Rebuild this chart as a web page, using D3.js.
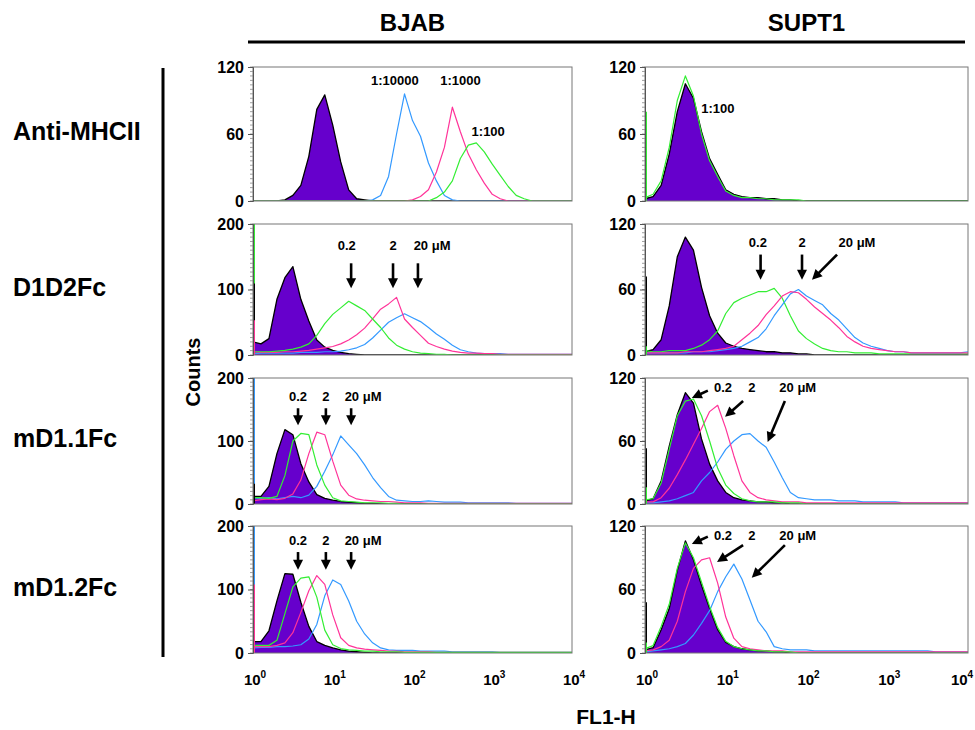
<!DOCTYPE html>
<html><head><meta charset="utf-8">
<script src="https://cdn.jsdelivr.net/npm/d3@7"></script>
<style>
body{margin:0;background:#fff;}
svg{display:block;font-family:Arial,"Liberation Sans",Helvetica,sans-serif;}
</style></head><body>
<svg id="chart" width="975" height="730"></svg>
<script>
// ---------------- DATA ----------------
const columnTitles = ["BJAB", "SUPT1"];
const rowLabels = ["Anti-MHCII", "D1D2Fc", "mD1.1Fc", "mD1.2Fc"];
const xTickValues = [1, 10, 100, 1000, 10000];
const xTickExponents = ["0", "1", "2", "3", "4"];
const yMaxByPanel = [[120, 120], [200, 120], [200, 120], [200, 120]];

// bin centres, as log10(FL1-H)
const binExponents = [0,0.1,0.2,0.3,0.4,0.5,0.6,0.7,0.8,0.9,
  1,1.1,1.2,1.3,1.4,1.5,1.6,1.7,1.8,1.9,
  2,2.1,2.2,2.3,2.4,2.5,2.6,2.7,2.8,2.9,
  3,3.1,3.2,3.3,3.4,3.5,3.6,3.7,3.8,3.9,4];

// Row 1 — Anti-MHCII
const bjabMhcCtrl = [0,0,0,0,1,5,14,40,82,95, 68,35,10,2,1,0,0,0,0,0, 0,0,0,0,0,0,0,0,0,0, 0,0,0,0,0,0,0,0,0,0,0];
const bjabMhc10000 = [0,0,0,0,0,0,0,0,0,0, 0,0,0,0,0,1,5,22,60,96, 72,58,34,18,5,1,0,0,0,0, 0,0,0,0,0,0,0,0,0,0,0];
const bjabMhc1000 = [0,0,0,0,0,0,0,0,0,0, 0,0,0,0,0,0,0,0,0,0, 1,4,10,26,48,84,62,42,28,16, 6,2,0,0,0,0,0,0,0,0,0];
const bjabMhc100 = [0,0,0,0,0,0,0,0,0,0, 0,0,0,0,0,0,0,0,0,0, 0,0,0,3,8,18,38,50,52,44, 33,23,13,5,2,0,0,0,0,0,0];
const supt1MhcCtrl = [2,4,14,42,80,105,92,62,38,24, 10,6,4,3,3,2,2,1,1,0, 0,0,0,0,0,0,0,0,0,0, 0,0,0,0,0,0,0,0,0,0,0];
const supt1Mhc100 = [3,6,18,48,90,112,94,60,36,22, 9,5,3,3,2,2,1,1,1,1, 0,0,0,0,0,0,0,0,0,0, 0,0,0,0,0,0,0,0,0,0,0];

// Row 2 — D1D2Fc (0.2, 2, 20 µM)
const bjabD1D2Ctrl = [20,17,25,85,118,135,85,52,23,12, 7,4,2,1,0,0,0,0,0,0, 0,0,0,0,0,0,0,0,0,0, 0,0,0,0,0,0,0,0,0,0,0];
const bjabD1D2Low = [5,5,5,6,7,9,12,17,30,48, 62,72,82,75,68,55,42,26,15,9, 5,3,2,1,1,0,0,0,0,0, 0,0,0,0,0,0,0,0,0,0,0];
const bjabD1D2Mid = [5,4,4,4,5,5,6,7,9,11, 13,17,23,31,41,55,70,78,88,55, 42,30,18,13,9,6,4,3,3,2, 2,1,1,1,1,1,1,1,1,1,1];
const bjabD1D2High = [2,3,3,3,3,3,4,4,4,5, 5,6,8,11,16,26,38,50,57,63, 57,51,42,32,24,15,8,5,3,2, 2,2,1,1,1,1,1,1,1,1,1];
const supt1D1D2Ctrl = [3,5,14,45,90,108,96,62,36,20, 11,8,6,5,4,3,3,2,2,1, 1,0,0,0,0,0,0,0,0,0, 0,0,0,0,0,0,0,0,0,0,0];
const supt1D1D2Low = [4,3,3,4,4,4,6,9,14,22, 38,48,52,55,58,58,61,52,36,22, 15,10,6,4,3,3,2,2,2,1, 1,1,1,1,1,1,1,1,1,1,1];
const supt1D1D2Mid = [2,2,2,2,2,3,3,3,4,5, 6,8,14,20,27,37,45,54,58,57, 51,44,38,32,25,17,12,8,6,5, 4,3,3,2,2,2,2,2,2,2,2];
const supt1D1D2High = [2,2,2,2,2,2,3,3,3,4, 5,6,8,12,16,24,36,46,56,60, 54,50,46,38,32,24,16,11,8,6, 4,3,3,2,2,2,2,2,2,2,3];

// Row 3 — mD1.1Fc
const bjabM11Ctrl = [12,12,28,80,118,110,64,35,15,9, 6,4,3,2,1,1,0,0,0,0, 0,0,0,0,0,0,0,0,0,0, 0,0,0,0,0,0,0,0,0,0,0];
const bjabM11Low = [10,10,9,12,45,100,112,110,62,30, 10,5,4,3,2,2,2,1,1,0, 0,0,0,0,0,0,0,0,0,0, 0,0,0,0,0,0,0,0,0,0,0];
const bjabM11Mid = [5,7,8,7,9,16,38,80,114,110, 68,30,14,8,6,5,4,4,3,2, 2,2,1,1,1,1,1,1,1,1, 1,1,1,1,1,1,1,1,1,1,1];
const bjabM11High = [10,9,10,8,10,12,10,14,28,52, 78,108,94,80,62,42,26,12,6,5, 4,4,5,4,3,3,3,2,2,2, 2,2,2,1,1,1,1,1,1,1,1];
const supt1M11Ctrl = [3,5,22,55,85,106,96,62,38,22, 11,6,4,3,2,2,1,1,0,0, 0,0,0,0,0,0,0,0,0,0, 0,0,0,0,0,0,0,0,0,0,0];
const supt1M11Low = [4,5,20,52,84,98,100,84,60,34, 18,10,5,3,2,2,2,1,1,1, 0,0,0,0,0,0,0,0,0,0, 0,0,0,0,0,0,0,0,0,0,0];
const supt1M11Mid = [2,2,6,15,28,42,57,72,88,94, 72,46,22,11,6,4,3,2,2,2, 1,1,1,1,1,1,1,1,1,1, 1,1,1,1,1,1,1,1,1,1,1];
const supt1M11High = [1,1,2,3,5,8,11,22,30,40, 52,60,66,67,60,54,40,25,11,6, 5,4,4,4,3,3,3,2,2,2, 2,2,1,1,1,1,1,1,1,1,1];

// Row 4 — mD1.2Fc
const bjabM12Ctrl = [18,18,35,82,125,124,80,42,18,12, 8,5,3,2,1,0,0,0,0,0, 0,0,0,0,0,0,0,0,0,0, 0,0,0,0,0,0,0,0,0,0,0];
const bjabM12Low = [12,12,12,20,62,104,118,120,88,36, 13,7,5,4,3,3,2,2,2,1, 1,1,1,1,1,1,1,1,1,1, 1,1,1,1,1,1,1,1,1,1,1];
const bjabM12Mid = [10,10,10,12,16,32,64,98,122,108, 60,24,12,8,6,5,4,3,3,2, 2,2,2,1,1,1,1,1,1,1, 1,1,1,1,1,1,1,1,1,1,1];
const bjabM12High = [8,9,9,10,10,11,13,22,45,90, 115,108,82,50,30,16,8,5,4,4, 4,3,3,3,3,2,2,2,2,2, 2,1,1,1,1,1,1,1,1,1,1];
const supt1M12Ctrl = [3,5,22,42,78,106,88,64,42,22, 10,6,4,3,2,2,1,1,0,0, 0,0,0,0,0,0,0,0,0,0, 0,0,0,0,0,0,0,0,0,0,0];
const supt1M12Low = [4,7,25,46,80,104,90,67,44,24, 11,6,4,3,2,2,1,1,1,0, 0,0,0,0,0,0,0,0,0,0, 0,0,0,0,0,0,0,0,0,0,0];
const supt1M12Mid = [2,3,6,12,30,58,80,88,90,66, 34,14,6,4,3,2,2,2,1,1, 1,1,1,1,1,1,1,1,1,1, 1,1,1,1,1,1,1,1,1,1,1];
const supt1M12High = [1,2,3,4,6,9,17,28,40,58, 72,84,70,50,30,20,6,4,3,3, 3,2,2,2,2,2,2,2,2,2, 2,2,2,2,2,2,1,1,1,1,1];

// first-channel (FL1-H = 1) spikes: [series, count]
const supt1MhcSpikes = [["green", 80]];
const bjabD1D2Spikes = [["green", 200], ["black", 109], ["pink", 53]];
const supt1D1D2Spikes = [["black", 72], ["green", 8]];
const bjabM11Spikes = [["blue", 200], ["black", 32]];
const supt1M11Spikes = [["black", 53], ["green", 16]];
const bjabM12Spikes = [["blue", 200], ["pink", 108]];
const supt1M12Spikes = [["black", 48], ["green", 10]];

// annotations in data units: [text, FL1-H, count]
const bjabMhcNotes = [["1:10000", 60, 108], ["1:1000", 400, 108], ["1:100", 890, 62]];
const supt1MhcNotes = [["1:100", 8, 83]];
const bjabD1D2Notes = [["0.2", 15, 168], ["2", 57, 168], ["20 \u03bcM", 176, 168]];
const supt1D1D2Notes = [["0.2", 25, 103], ["2", 88, 103], ["20 \u03bcM", 422, 103]];
const bjabM11Notes = [["0.2", 3.67, 170], ["2", 8.2, 170], ["20 \u03bcM", 24, 170]];
const supt1M11Notes = [["0.2", 9.25, 111], ["2", 21, 111], ["20 \u03bcM", 78, 111]];
const bjabM12Notes = [["0.2", 3.67, 178], ["2", 8.2, 178], ["20 \u03bcM", 24, 178]];
const supt1M12Notes = [["0.2", 9.25, 111.5], ["2", 21, 111.5], ["20 \u03bcM", 78, 111.5]];

// arrows in data units: [fromFL1, fromCount, toFL1, toCount]
const bjabD1D2Arrows = [[17, 140, 17, 102], [57, 140, 57, 102], [117, 140, 117, 102]];
const supt1D1D2Arrows = [[27, 92, 27, 69], [88, 92, 88, 69], [239, 92, 117, 69]];
const bjabM11Arrows = [[3.67, 152, 3.67, 125], [8.2, 152, 8.2, 125], [17, 152, 17, 125]];
const supt1M11Arrows = [[6.0, 108, 3.8, 101], [16.4, 98, 9.8, 83], [54, 98, 33, 59]];
const bjabM12Arrows = [[3.67, 159, 3.67, 131], [8.2, 159, 8.2, 131], [17, 159, 17, 131]];
const supt1M12Arrows = [[6.0, 110, 3.8, 103], [16.4, 102, 7.8, 86], [54, 102, 21, 71]];

// ---------------- STYLE / LAYOUT ----------------
const COLORS = {blue: "#3399ff", pink: "#ff3399", green: "#33ee33", black: "#000", purple: "#6600cc"};
const colX = [[253, 572], [645, 968]];
const rowY = [[67, 201], [224, 355], [378, 504], [526, 653]];
const FONT = 'Arial, "Liberation Sans", Helvetica, sans-serif';

const panels = [
  {r:0,c:0,ctrl:bjabMhcCtrl,lines:[[bjabMhc10000,"blue"],[bjabMhc1000,"pink"],[bjabMhc100,"green"]],spikes:[],notes:bjabMhcNotes,arrows:[]},
  {r:0,c:1,ctrl:supt1MhcCtrl,lines:[[supt1Mhc100,"green"]],spikes:supt1MhcSpikes,notes:supt1MhcNotes,arrows:[]},
  {r:1,c:0,ctrl:bjabD1D2Ctrl,lines:[[bjabD1D2High,"blue"],[bjabD1D2Mid,"pink"],[bjabD1D2Low,"green"]],spikes:bjabD1D2Spikes,notes:bjabD1D2Notes,arrows:bjabD1D2Arrows},
  {r:1,c:1,ctrl:supt1D1D2Ctrl,lines:[[supt1D1D2Low,"green"],[supt1D1D2High,"blue"],[supt1D1D2Mid,"pink"]],spikes:supt1D1D2Spikes,notes:supt1D1D2Notes,arrows:supt1D1D2Arrows},
  {r:2,c:0,ctrl:bjabM11Ctrl,lines:[[bjabM11High,"blue"],[bjabM11Mid,"pink"],[bjabM11Low,"green"]],spikes:bjabM11Spikes,notes:bjabM11Notes,arrows:bjabM11Arrows},
  {r:2,c:1,ctrl:supt1M11Ctrl,lines:[[supt1M11High,"blue"],[supt1M11Mid,"pink"],[supt1M11Low,"green"]],spikes:supt1M11Spikes,notes:supt1M11Notes,arrows:supt1M11Arrows},
  {r:3,c:0,ctrl:bjabM12Ctrl,lines:[[bjabM12High,"blue"],[bjabM12Mid,"pink"],[bjabM12Low,"green"]],spikes:bjabM12Spikes,notes:bjabM12Notes,arrows:bjabM12Arrows},
  {r:3,c:1,ctrl:supt1M12Ctrl,lines:[[supt1M12High,"blue"],[supt1M12Mid,"pink"],[supt1M12Low,"green"]],spikes:supt1M12Spikes,notes:supt1M12Notes,arrows:supt1M12Arrows}
];

const svg = d3.select("#chart");
svg.append("rect").attr("width", 975).attr("height", 730).attr("fill", "#fff");

// headers
columnTitles.forEach((t, i) => {
  svg.append("text").attr("x", (colX[i][0] + colX[i][1]) / 2).attr("y", 31)
    .attr("text-anchor", "middle").attr("font-size", 24).attr("font-weight", "bold").text(t);
});
svg.append("line").attr("x1", 248).attr("x2", 965).attr("y1", 42).attr("y2", 42)
  .attr("stroke", "#000").attr("stroke-width", 3);
svg.append("line").attr("x1", 163).attr("x2", 163).attr("y1", 68).attr("y2", 657)
  .attr("stroke", "#000").attr("stroke-width", 3);
rowLabels.forEach((t, i) => {
  svg.append("text").attr("x", 13).attr("y", (rowY[i][0] + rowY[i][1]) / 2 + 6)
    .attr("font-size", 25).attr("font-weight", "bold").text(t);
});
svg.append("text").attr("transform", "translate(200,372) rotate(-90)")
  .attr("text-anchor", "middle").attr("font-size", 20).attr("font-weight", "bold").text("Counts");
svg.append("text").attr("x", 606).attr("y", 724).attr("text-anchor", "middle")
  .attr("font-size", 21).attr("font-weight", "bold").text("FL1-H");

const defs = svg.append("defs");

function drawArrow(g, x1, y1, x2, y2) {
  const dx = x2 - x1, dy = y2 - y1, len = Math.hypot(dx, dy);
  const ux = dx / len, uy = dy / len, hl = 10, hw = 5;
  const bx = x2 - ux * hl, by = y2 - uy * hl;
  g.append("line").attr("x1", x1).attr("y1", y1).attr("x2", bx + ux).attr("y2", by + uy)
    .attr("stroke", "#000").attr("stroke-width", 2.6);
  g.append("path").attr("d", `M${x2},${y2}L${bx - uy * hw},${by + ux * hw}L${bx + uy * hw},${by - ux * hw}Z`)
    .attr("fill", "#000");
}

panels.forEach((p, k) => {
  const [x0, x1] = colX[p.c], [y0, y1] = rowY[p.r];
  const yMax = yMaxByPanel[p.r][p.c];
  const x = d3.scaleLog().domain([1, 10000]).range([x0, x1]);
  const y = d3.scaleLinear().domain([0, yMax]).range([y1, y0]);
  const bx = i => x(Math.pow(10, binExponents[i]));

  defs.append("clipPath").attr("id", "clip" + k).append("rect")
    .attr("x", x0).attr("y", y0 - 1).attr("width", x1 - x0).attr("height", y1 - y0 + 1);
  const g = svg.append("g");
  const plot = g.append("g").attr("clip-path", `url(#clip${k})`);

  const area = d3.area().x((d, i) => bx(i)).y0(y(0)).y1(d => y(d));
  const line = d3.line().x((d, i) => bx(i)).y(d => y(d));

  plot.append("path").datum(p.ctrl).attr("d", area).attr("fill", COLORS.purple);
  plot.append("path").datum(p.ctrl).attr("d", line).attr("fill", "none")
    .attr("stroke", "#000").attr("stroke-width", 1.3).attr("stroke-linejoin", "round");
  p.lines.forEach(([vals, col]) => {
    plot.append("path").datum(vals).attr("d", line).attr("fill", "none")
      .attr("stroke", COLORS[col]).attr("stroke-width", 1.2).attr("stroke-linejoin", "round");
  });
  p.spikes.forEach(([col, cnt]) => {
    plot.append("line").attr("x1", x(1) + 1).attr("x2", x(1) + 1).attr("y1", y(0)).attr("y2", y(cnt))
      .attr("stroke", COLORS[col]).attr("stroke-width", 2);
  });

  // frame
  g.append("rect").attr("x", x0).attr("y", y0).attr("width", x1 - x0).attr("height", y1 - y0)
    .attr("fill", "none").attr("stroke", "#777").attr("stroke-width", 1);

  // minor ticks
  g.append("g").selectAll("line").data(d3.range(0, 31)).join("line")
    .attr("x1", x0 - 3).attr("x2", x0).attr("y1", d => y(d * yMax / 30)).attr("y2", d => y(d * yMax / 30))
    .attr("stroke", "#888").attr("stroke-width", 0.8);

  const yAxis = g.append("g").attr("transform", `translate(${x0},0)`)
    .call(d3.axisLeft(y).tickValues([0, yMax / 2, yMax]).tickSize(5).tickPadding(4).tickFormat(d3.format("d")));
  yAxis.select(".domain").attr("stroke", "#555");
  yAxis.selectAll(".tick line").attr("stroke", "#555");
  yAxis.selectAll("text").attr("font-size", 16).attr("font-weight", "bold").attr("font-family", FONT).attr("fill", "#000");

  // x labels on bottom row
  if (p.r === 3) {
    xTickValues.forEach((v, i) => {
      const t = g.append("text").attr("x", Math.min(x(v) + 2, 962)).attr("y", 685).attr("text-anchor", "middle")
        .attr("font-weight", "bold").attr("font-size", 15);
      t.append("tspan").text("10");
      t.append("tspan").attr("font-size", 10).attr("dy", -7).text(xTickExponents[i]);
    });
  }

  // notes and arrows
  p.notes.forEach(([txt, fx, cy]) => {
    g.append("text").attr("x", x(fx)).attr("y", y(cy)).attr("dy", "0.35em").attr("text-anchor", "middle")
      .attr("font-size", 13).attr("font-weight", "bold").text(txt);
  });
  p.arrows.forEach(([fa, ca, fb, cb]) => drawArrow(g, x(fa), y(ca), x(fb), y(cb)));
});
</script>
</body></html>
